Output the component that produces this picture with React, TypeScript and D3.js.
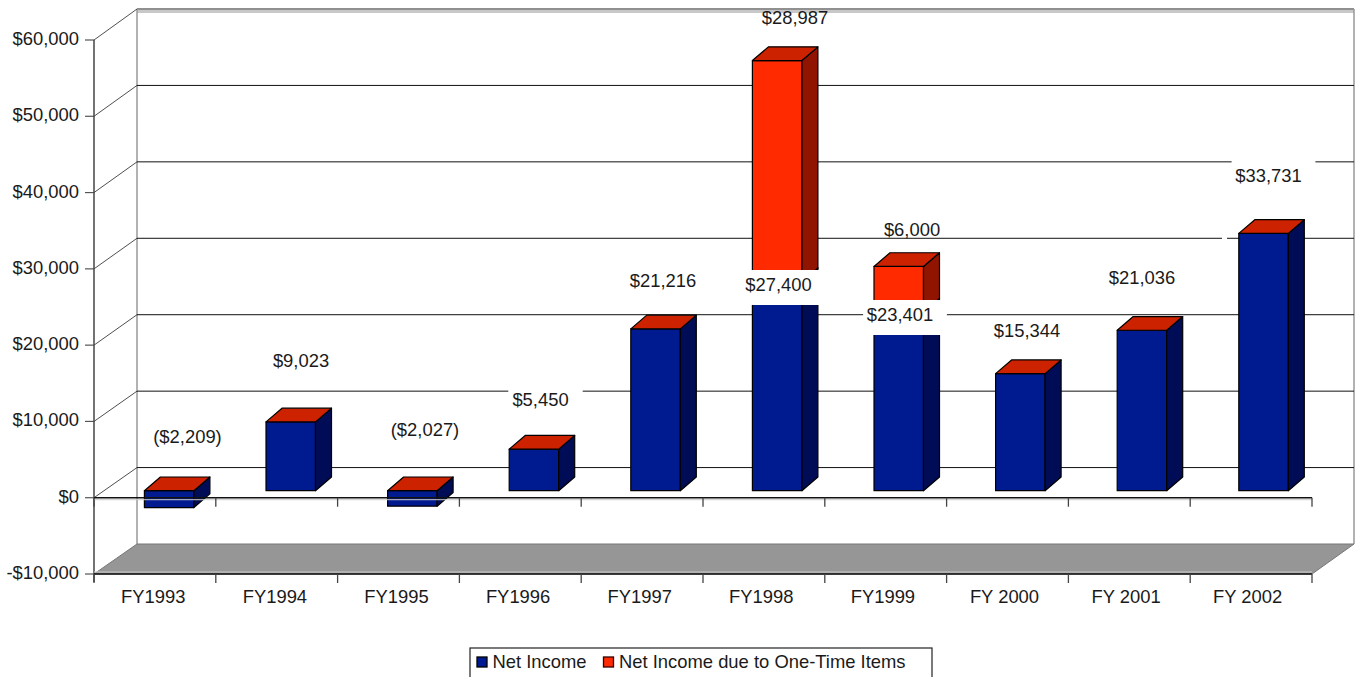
import React from "react";
import * as d3 from "d3";

const categories = ["FY1993","FY1994","FY1995","FY1996","FY1997","FY1998","FY1999","FY 2000","FY 2001","FY 2002"];
const netIncome = [-2209,9023,-2027,5450,21216,27400,23401,15344,21036,33731];
const oneTime = [0,0,0,0,0,28987,6000,0,0,0];
const valueLabels = ["($2,209)","$9,023","($2,027)","$5,450","$21,216","$27,400","$23,401","$15,344","$21,036","$33,731"];
const yTicks = [-10000,0,10000,20000,30000,40000,50000,60000];
const legendItems = ["Net Income","Net Income due to One-Time Items"];

// hand-placed label anchors, as in the original chart
const netLabelX = [187.5,301,425,540.5,663,778.5,900,1027,1142,1268.5];
const netLabelY = [437,361,430,400,281,285,315,331,278,176];
const oneTimeLabelPos: Record<number, [number, number]> = { 5: [795, 18], 6: [912, 230] };

const FONT = "'Liberation Sans', Arial, sans-serif";
const BLUE = "#001a90", BLUE_SIDE = "#000c55", RED = "#ff2a00", RED_TOP = "#cc2200", RED_SIDE = "#901400";

const W = 1362, H = 677;
const X0 = 94, X1 = 1312, DX = 43;
const x = d3.scaleBand<string>().domain(categories).range([X0, X1]);
const xLabel = d3.scaleBand<string>().domain(categories).range([92.5, 1308.5]);
const xBar = d3.scaleBand<string>().domain(categories).range([X0 + 0.4, X0 + 1216.4]);
const y = d3.scaleLinear().domain([-10000, 60000]).range([574, 40]);
const yBack = d3.scaleLinear().domain([-10000, 60000]).range([544, 9]);
const fmt = (v: number) => (v < 0 ? "-$" : "$") + d3.format(",")(Math.abs(v));

const BAR_OFF = 50, BAR_W = 49.5, BD = 16, BDY = -13.7;
const barShift = -7;

function Box({ left, top, bottom, front, side, topFill }: any) {
  const r = left + BAR_W;
  return (
    <g stroke="#000" strokeWidth={1.2} strokeLinejoin="round">
      <rect x={left} y={top} width={BAR_W} height={bottom - top} fill={front} />
      <path d={`M${r},${top}L${r + BD},${top + BDY}L${r + BD},${bottom + BDY}L${r},${bottom}Z`} fill={side} />
      <path d={`M${left},${top}L${left + BD},${top + BDY}L${r + BD},${top + BDY}L${r},${top}Z`} fill={topFill} />
    </g>
  );
}

export default function App() {
  const step = x.step();
  const yb = (v: number) => y(v) + barShift;
  const backX0 = X0 + DX, backX1 = X1 + DX - 1;
  const textStyle = { fontFamily: FONT, fontSize: 18.4, fill: "#1a1a1a" };
  return (
    <svg width={W} height={H} style={{ position: "absolute", left: 0, top: 0, background: "#fff" }}>
      {/* walls */}
      <rect x={backX0} y={yBack(60000) + 1} width={backX1 - backX0} height={3} fill="#c8c8c8" />
      <line x1={backX0} x2={backX1} y1={yBack(60000)} y2={yBack(60000)} stroke="#222" strokeWidth={1.2} />
      <line x1={backX0} x2={backX0} y1={yBack(60000)} y2={yBack(-10000)} stroke="#999" strokeWidth={1.5} />
      <line x1={backX1} x2={backX1} y1={yBack(60000)} y2={yBack(-10000)} stroke="#999" strokeWidth={1.5} />
      {yTicks.map(t => (
        <g key={t}>
          {t > -10000 && t < 60000 && (
            <line x1={backX0} x2={backX1} y1={yBack(t)} y2={yBack(t)} stroke="#111" strokeWidth={1} />
          )}
          {t > -10000 && (
            <line x1={X0} x2={backX0} y1={y(t)} y2={yBack(t)} stroke="#222" strokeWidth={0.8} />
          )}
          <line x1={X0 - 9} x2={X0} y1={y(t)} y2={y(t)} stroke="#555" strokeWidth={1.2} />
          <text x={X0 - 15} y={y(t) + 5} textAnchor="end" style={textStyle}>{fmt(t)}</text>
        </g>
      ))}
      {/* floor */}
      <path d={`M${X0},${y(-10000)}L${backX0},${yBack(-10000)}L${backX1},${yBack(-10000)}L${X1},${y(-10000)}Z`} fill="#969696" stroke="#777" strokeWidth={1} />
      {/* bars */}
      {categories.map((c, i) => {
        const left = (xBar(c) as number) + BAR_OFF;
        const v = netIncome[i], e = oneTime[i];
        return (
          <g key={c}>
            {v < 0 ? (
              <Box left={left} top={yb(0)} bottom={yb(v)} front={BLUE} side={BLUE_SIDE} topFill={RED_TOP} />
            ) : (
              <Box left={left} top={yb(v)} bottom={yb(0)} front={BLUE} side={BLUE_SIDE} topFill={e > 0 ? BLUE : RED_TOP} />
            )}
            {e > 0 && (
              <Box left={left} top={yb(v + e)} bottom={yb(v)} front={RED} side={RED_SIDE} topFill={RED_TOP} />
            )}
          </g>
        );
      })}
      {/* axes */}
      <line x1={X0} x2={X0} y1={y(60000)} y2={y(-10000) + 8} stroke="#444" strokeWidth={1.5} />
      <line x1={X0} x2={X1} y1={y(0)} y2={y(0)} stroke="#111" strokeWidth={1.5} />
      <line x1={X0} x2={X1} y1={y(0) + 2} y2={y(0) + 2} stroke="#ccc" strokeWidth={1} />
      <line x1={X0} x2={X1} y1={y(-10000)} y2={y(-10000)} stroke="#111" strokeWidth={1.5} />
      <line x1={X0} x2={X1} y1={y(-10000) - 2} y2={y(-10000) - 2} stroke="#ccc" strokeWidth={1} />
      {d3.range(categories.length + 1).map(i => {
        const px = X0 + i * step;
        return (
          <g key={i} stroke="#444" strokeWidth={1.3}>
            <line x1={px} x2={px} y1={y(0)} y2={y(0) + 9} />
            <line x1={px} x2={px} y1={y(-10000)} y2={y(-10000) + 9} />
          </g>
        );
      })}
      {categories.map(c => (
        <text key={c} x={(xLabel(c) as number) + xLabel.step() / 2} y={603} textAnchor="middle" style={textStyle}>{c}</text>
      ))}
      {/* value labels with white backing */}
      <rect x={1222} y={236} width={5} height={4} fill="#fff" />
      {categories.map((c, i) => {
        const cx = netLabelX[i];
        const ly = netLabelY[i];
        const half = valueLabels[i].length * 4.7;
        return (
          <g key={c}>
            <rect x={cx - half - 4} y={ly - 15} width={half * 2 + 18} height={35} fill="#fff" />
            <text x={cx} y={ly + 5.5} textAnchor="middle" style={textStyle}>{valueLabels[i]}</text>
          </g>
        );
      })}
      {oneTime.map((e, i) => e > 0 ? (
        <text key={i} x={oneTimeLabelPos[i][0]} y={oneTimeLabelPos[i][1] + 5.5} textAnchor="middle" style={textStyle}>{fmt(e)}</text>
      ) : null)}
      {/* legend */}
      <rect x={470} y={648} width={462} height={40} fill="#fff" stroke="#222" strokeWidth={1.2} />
      <rect x={477} y={657} width={10} height={10} fill={BLUE} stroke="#000" strokeWidth={1.3} />
      <text x={492.5} y={668} style={textStyle}>{legendItems[0]}</text>
      <rect x={603.5} y={657} width={10} height={10} fill={RED} stroke="#300" strokeWidth={1.3} />
      <text x={619} y={668} style={textStyle}>{legendItems[1]}</text>
    </svg>
  );
}
